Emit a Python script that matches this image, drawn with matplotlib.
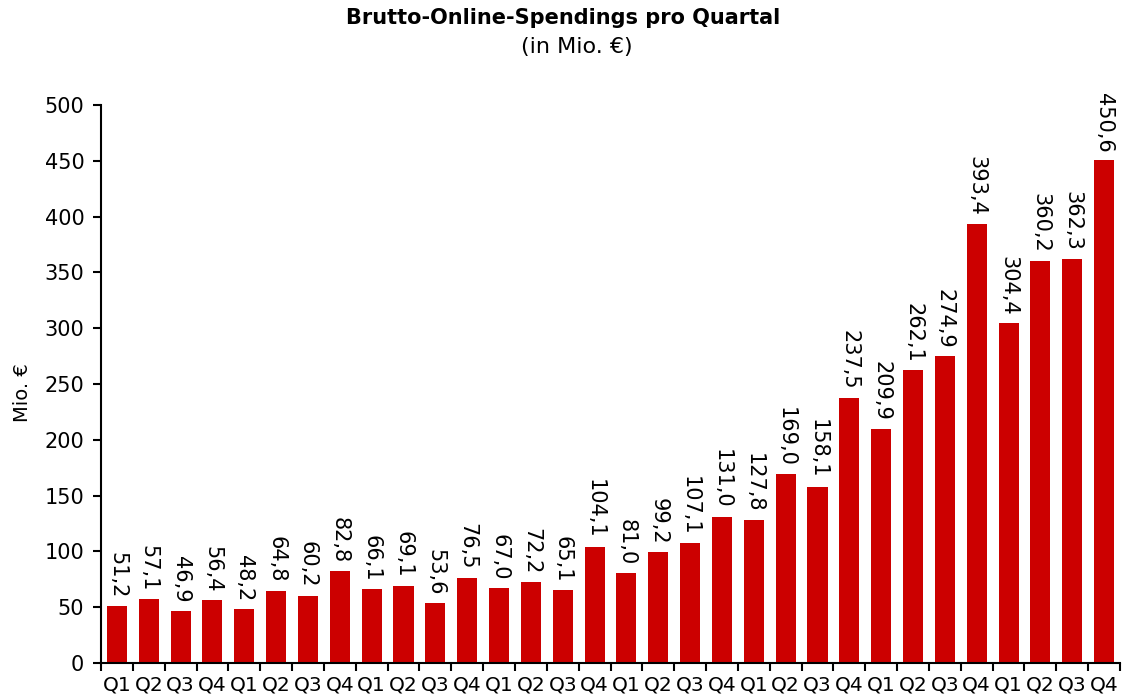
import matplotlib.pyplot as plt
import numpy as np
from matplotlib.ticker import FixedLocator

quarters = ['Q1', 'Q2', 'Q3', 'Q4'] * 8
values = [51.2, 57.1, 46.9, 56.4, 48.2, 64.8, 60.2, 82.8,
          66.1, 69.1, 53.6, 76.5, 67.0, 72.2, 65.1, 104.1,
          81.0, 99.2, 107.1, 131.0, 127.8, 169.0, 158.1, 237.5,
          209.9, 262.1, 274.9, 393.4, 304.4, 360.2, 362.3, 450.6]

fig = plt.figure(figsize=(11.26, 6.97), dpi=100)
ax = fig.add_axes([0.0897, 0.0488, 0.905, 0.8006])

x = np.arange(len(values))
ax.bar(x, values, width=0.63, color='#CC0000')

# value labels, reading top to bottom
for xi, v in zip(x, values):
    ax.text(xi, v + 7, f'{v:.1f}'.replace('.', ','), rotation=270,
            ha='center', va='bottom', fontsize=15)

ax.set_xlim(-0.5, len(values) - 0.5)
ax.set_ylim(0, 500)
ax.set_yticks(range(0, 501, 50))
ax.set_xticks(x)
ax.set_xticklabels(quarters, fontsize=14.5)
ax.xaxis.set_minor_locator(FixedLocator(np.arange(-0.5, len(values), 1)))
ax.tick_params(axis='x', which='major', length=0, pad=9)
ax.tick_params(axis='x', which='minor', length=6, width=1.5, direction='out')
ax.tick_params(axis='y', labelsize=15, length=6, width=1.5, direction='out', pad=6)

for s in ['top', 'right']:
    ax.spines[s].set_visible(False)
for s in ['left', 'bottom']:
    ax.spines[s].set_linewidth(1.5)

ax.set_ylabel('Mio. €', fontsize=14)
ax.yaxis.set_label_coords(-0.068, 0.485)

fig.text(0.5, 0.974, 'Brutto-Online-Spendings pro Quartal', ha='center',
         va='center', fontsize=15, fontweight='bold')
fig.text(0.512, 0.933, '(in Mio. €)', ha='center', va='center', fontsize=16)

fig.savefig('out.png', dpi=100)
